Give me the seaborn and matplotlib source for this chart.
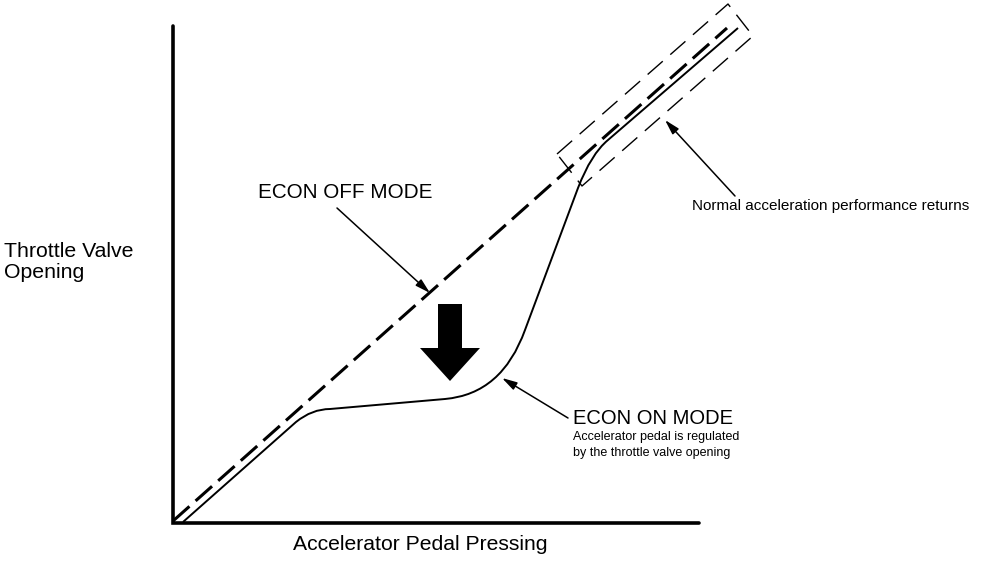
import matplotlib
matplotlib.use("Agg")
import matplotlib.pyplot as plt
import seaborn as sns
from matplotlib.path import Path
from matplotlib.patches import PathPatch

sns.set_style("white")
plt.rcParams['font.family'] = ['Liberation Sans', 'DejaVu Sans']
plt.rcParams['text.color'] = 'black'

# ---- data (diagram coordinates, pixel-like units, y downward) ----
axis_x = [173, 173, 699]
axis_y = [26, 523, 523]

econ_off_x = [173, 727]
econ_off_y = [521, 28]

# ECON ON curve: straight segments joined by quadratic bends
econ_on_pts = [(183, 522), (296, 422), (312, 409), (330, 409), (445, 399),
               (502, 394), (525, 330), (578, 188), (591, 154), (608, 140),
               (738, 28)]
econ_on_codes = ["M", "L", "C", "C", "L", "C", "C", "L", "C", "C", "L"]

box_x = [557, 728, 753, 582, 557]
box_y = [154, 4, 36, 186, 154]

big_arrow = dict(x=450, y=304, dy=77, width=24, head_width=60, head_length=33)

labels = {
    "ylabel": "Throttle Valve\nOpening",
    "xlabel": "Accelerator Pedal Pressing",
    "off": "ECON OFF MODE",
    "on": "ECON ON MODE",
    "on_sub": "Accelerator pedal is regulated\nby the throttle valve opening",
    "normal": "Normal acceleration performance returns",
}

fig = plt.figure(figsize=(10.08, 5.64), dpi=100)
ax = fig.add_axes([0, 0, 1, 1])
ax.set_xlim(0, 1008)
ax.set_ylim(564, 0)
ax.axis("off")

# axes lines
sns.lineplot(x=axis_x, y=axis_y, sort=False, estimator=None, color="black",
             linewidth=2.6, ax=ax)
ax.lines[-1].set_solid_joinstyle("miter")

# ECON OFF dashed line
sns.lineplot(x=econ_off_x, y=econ_off_y, sort=False, estimator=None, color="black",
             linewidth=2.2, ax=ax)
ax.lines[-1].set_dashes([7.2, 2.7])

# ECON ON curve
code_map = {"M": Path.MOVETO, "L": Path.LINETO, "C": Path.CURVE3}
path = Path(econ_on_pts, [code_map[c] for c in econ_on_codes])
ax.add_patch(PathPatch(path, facecolor="none", edgecolor="black", linewidth=1.4))

# dashed box
sns.lineplot(x=box_x, y=box_y, sort=False, estimator=None, color="black",
             linewidth=1.0, ax=ax)
ax.lines[-1].set_dashes([14.5, 7.2])

# big down arrow
ax.arrow(big_arrow["x"], big_arrow["y"], 0, big_arrow["dy"], width=big_arrow["width"],
         head_width=big_arrow["head_width"], head_length=big_arrow["head_length"],
         length_includes_head=True, color="black", linewidth=0)

arrowprops = dict(arrowstyle="-|>,head_length=0.9,head_width=0.25", color="black",
                  linewidth=1.1, shrinkA=0, shrinkB=0)

# texts
ax.text(4, 262, labels["ylabel"], fontsize=15.3, ha="left", va="center", linespacing=1.1)
ax.text(420, 544, labels["xlabel"], fontsize=15.2, ha="center", va="center")

ax.text(258, 193, labels["off"], fontsize=14.9, ha="left", va="center")
ax.annotate("", xy=(430, 293), xytext=(337, 208), arrowprops=arrowprops)

ax.text(573, 418, labels["on"], fontsize=14.5, ha="left", va="center")
ax.text(573, 445, labels["on_sub"], fontsize=9, ha="left", va="center", linespacing=1.45)
ax.annotate("", xy=(502, 378), xytext=(568, 418), arrowprops=arrowprops)

ax.text(692, 206, labels["normal"], fontsize=11, ha="left", va="center")
ax.annotate("", xy=(665, 120), xytext=(735, 196), arrowprops=arrowprops)

fig.savefig("out.png", dpi=100, facecolor="white")
